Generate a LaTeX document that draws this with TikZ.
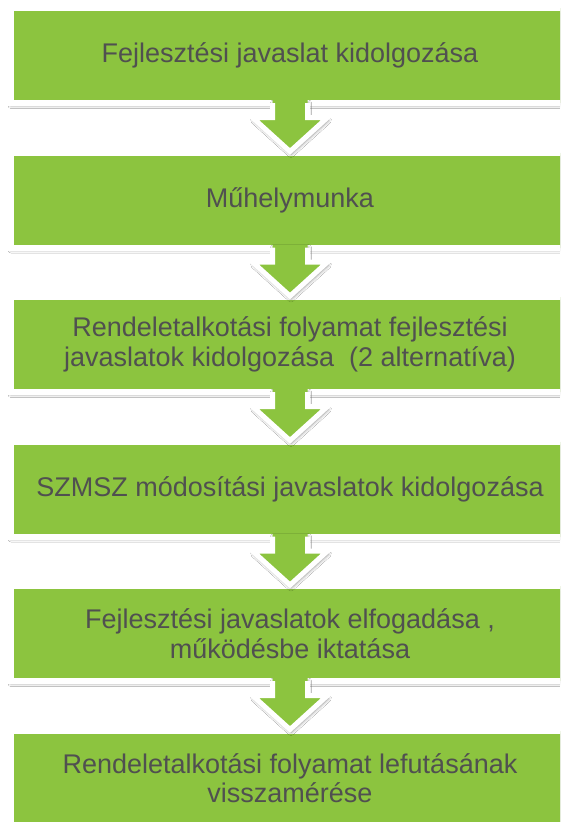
\documentclass[tikz,border=0pt]{standalone}
\usepackage{fontspec}
\setmainfont{Liberation Sans}
\usetikzlibrary{shadows.blur,calc}
\definecolor{boxgreen}{HTML}{8CC43F}
\definecolor{txtgray}{HTML}{505050}
\tikzset{
  flowbox/.style={rectangle, fill=boxgreen, draw=white, line width=6pt,
    minimum width=558pt, minimum height=95pt, inner sep=0pt, outer sep=0pt,
    align=center, text=txtgray, font=\fontsize{27}{29.5}\selectfont,
    blur shadow={shadow xshift=0pt, shadow yshift=-2.5pt, shadow blur radius=3pt, shadow opacity=45}},
  arrowfill/.style={fill=boxgreen,
    blur shadow={shadow xshift=1pt, shadow yshift=-3pt, shadow blur radius=3pt, shadow opacity=45}},
  arrowline/.style={draw=white, line width=5pt, line join=miter}
}
\newcommand{\flowarrow}[2]{%
  \path[arrowfill] ($(#1.south)+(-17.5,-3)$) -- ($(#1.south)+(-17.5,14.5)$)
    -- ($(#1.south)+(-37.5,14.5)$) -- ($(#2.north)+(0,-1)$)
    -- ($(#1.south)+(37.5,14.5)$) -- ($(#1.south)+(17.5,14.5)$)
    -- ($(#1.south)+(17.5,-3)$) -- cycle;
  \draw[arrowline] ($(#1.south)+(-17.5,0)$) -- ($(#1.south)+(-17.5,14.5)$)
    -- ($(#1.south)+(-37.5,14.5)$) -- ($(#2.north)+(0,-1)$)
    -- ($(#1.south)+(37.5,14.5)$) -- ($(#1.south)+(17.5,14.5)$)
    -- ($(#1.south)+(17.5,0)$);
}
\begin{document}
\begin{tikzpicture}[x=1pt,y=-1pt]
\useasboundingbox (0,0) rectangle (560,822);
\clip (0,0) rectangle (560,822);
\fill[white] (0,0) rectangle (560,822);
\node[flowbox] (b1) at (290,55.5) {Fejlesztési javaslat kidolgozása};
\node[flowbox] (b2) at (290,200) {Műhelymunka};
\node[flowbox] (b3) at (290,344.5) {Rendeletalkotási folyamat fejlesztési\\javaslatok kidolgozása \ (2 alternatíva)};
\node[flowbox] (b4) at (290,489) {SZMSZ módosítási javaslatok kidolgozása};
\node[flowbox] (b5) at (290,633.5) {Fejlesztési javaslatok elfogadása ,\\működésbe iktatása};
\node[flowbox] (b6) at (290,778) {Rendeletalkotási folyamat lefutásának\\visszamérése};
\flowarrow{b1}{b2}
\flowarrow{b2}{b3}
\flowarrow{b3}{b4}
\flowarrow{b4}{b5}
\flowarrow{b5}{b6}
\end{tikzpicture}
\end{document}
